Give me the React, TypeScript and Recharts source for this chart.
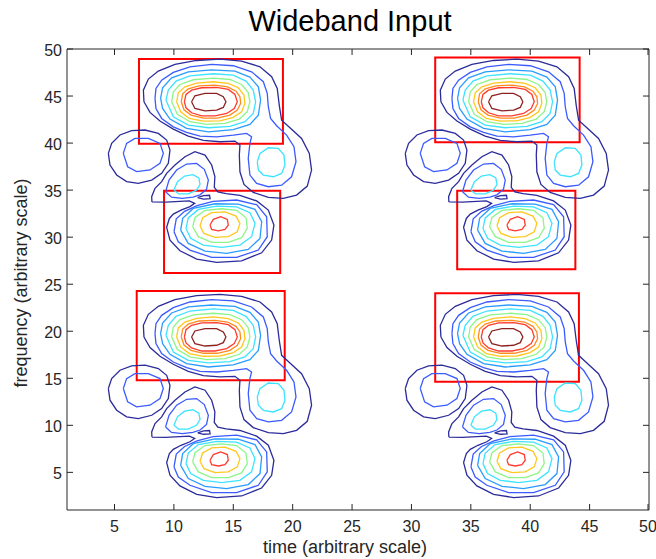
import React from "react";
import { LineChart, Line, XAxis, YAxis, ReferenceArea } from "recharts";

// contour colours, outermost level first (jet-like)
const NAVY = "#2b2b9a";
const BLUE = "#3b5bff";
const AZURE = "#2b9cff";
const CYAN = "#3de3ff";
const GREEN = "#8df58a";
const YELLOW = "#ffc81e";
const ORANGE = "#ff8a1e";
const RED = "#ff3a2e";
const DARKRED = "#8e2222";
const AXIS = "#262626";

type Pt = [number, number]; // [time, frequency]

// --- one tile of the pattern, traced off the top-left quarter ---

// big blob + the blob to its right
const bigNavy: Pt[] = [
  [7.48, 44.39], [7.43, 45.63], [7.85, 46.8], [8.69, 47.65], [10.09, 48.36], [11.91, 48.78],
  [13.88, 48.92], [15.7, 48.71], [17.25, 48.11], [18.23, 47.05], [18.7, 45.81], [18.87, 44.04],
  [19.07, 42.44], [19.77, 41.63], [20.75, 40.49], [21.4, 38.9], [21.59, 37.13], [21.23, 35.43],
  [20.33, 34.47], [19.21, 34.12], [17.95, 34.22], [16.68, 34.76], [15.9, 35.61], [15.56, 36.95],
  [15.51, 38.72], [15.56, 39.79], [15.14, 40.21], [13.88, 40.14], [12.48, 40.28], [11.21, 40.74],
  [9.95, 41.49], [8.83, 42.34], [7.99, 43.26],
];
const bigBlue: Pt[] = [
  [8.41, 44.75], [8.49, 45.81], [8.97, 46.69], [9.95, 47.51], [11.35, 48.11], [13.18, 48.36],
  [15.0, 48.22], [16.54, 47.58], [17.53, 46.52], [17.86, 45.28], [17.95, 43.86], [18.14, 42.62],
  [18.65, 41.84], [19.49, 40.85], [20.11, 39.61], [20.28, 38.01], [19.91, 36.42], [19.07, 35.53],
  [17.95, 35.36], [16.97, 35.71], [16.4, 36.6], [16.26, 38.37], [16.4, 39.96], [16.54, 40.67],
  [16.12, 41.03], [15.0, 40.85], [13.6, 40.67], [12.2, 40.74], [11.07, 41.13], [9.95, 41.73],
  [8.97, 42.62], [8.49, 43.68],
];
const bigAzure: Pt[] = [
  [8.88, 44.75], [9.05, 45.88], [9.81, 46.94], [11.21, 47.58], [13.18, 47.79], [15.14, 47.65],
  [16.4, 47.01], [17.11, 45.98], [17.3, 44.57], [17.11, 42.97], [16.4, 41.98], [15.0, 41.42],
  [12.9, 41.2], [11.07, 41.56], [9.67, 42.55], [9.05, 43.68],
];
const bigCyan: Pt[] = [
  [9.33, 44.57], [9.53, 45.63], [10.18, 46.59], [11.35, 47.15], [13.32, 47.37], [15.0, 47.22],
  [16.07, 46.59], [16.68, 45.63], [16.88, 44.39], [16.68, 43.15], [15.98, 42.27], [14.72, 41.77],
  [12.9, 41.63], [11.21, 41.91], [9.95, 42.8],
];
const bigGreen: Pt[] = [
  [9.81, 44.39], [9.95, 45.45], [10.51, 46.23], [11.63, 46.73], [13.32, 46.91], [14.72, 46.76],
  [15.7, 46.23], [16.26, 45.38], [16.4, 44.39], [16.18, 43.33], [15.51, 42.55], [14.3, 42.09],
  [12.76, 41.98], [11.35, 42.27], [10.29, 43.05],
];
const bigYellow: Pt[] = [
  [10.23, 44.39], [10.37, 45.35], [10.93, 45.98], [11.91, 46.37], [13.32, 46.52], [14.58, 46.34],
  [15.42, 45.88], [15.9, 45.1], [15.98, 44.21], [15.7, 43.33], [15.0, 42.73], [13.88, 42.37],
  [12.48, 42.34], [11.3, 42.62], [10.57, 43.33],
];
const bigOrange: Pt[] = [
  [10.62, 44.39], [10.74, 45.24], [11.21, 45.77], [12.11, 46.09], [13.46, 46.16], [14.52, 45.98],
  [15.23, 45.52], [15.56, 44.92], [15.62, 44.21], [15.34, 43.5], [14.72, 42.97], [13.65, 42.66],
  [12.48, 42.66], [11.44, 42.97], [10.85, 43.54],
];
const bigRed: Pt[] = [
  [10.88, 44.39], [11.02, 45.17], [11.49, 45.63], [12.34, 45.88], [13.6, 45.91], [14.58, 45.7],
  [15.14, 45.17], [15.34, 44.39], [15.08, 43.68], [14.44, 43.15], [13.46, 42.9], [12.34, 42.9],
  [11.49, 43.22], [11.02, 43.75],
];
const bigCore: Pt[] = [
  [11.49, 44.39], [11.77, 45.03], [12.62, 45.28], [13.6, 45.28], [14.16, 44.92], [14.38, 44.39],
  [14.16, 43.79], [13.6, 43.51], [12.62, 43.43], [11.77, 43.68],
];
const rightCore: Pt[] = [
  [17.02, 38.01], [17.25, 38.9], [17.95, 39.5], [18.79, 39.43], [19.27, 38.72], [19.35, 37.66],
  [19.07, 36.77], [18.37, 36.42], [17.53, 36.6], [17.11, 37.13],
];

// blob on the left
const leftNavy: Pt[] = [
  [4.48, 38.91], [4.76, 39.97], [5.46, 40.86], [6.44, 41.32], [7.57, 41.39], [8.69, 41.03],
  [9.39, 40.32], [9.67, 39.26], [9.53, 37.85], [8.97, 36.78], [8.13, 36.07], [7.0, 35.72],
  [6.02, 35.9], [5.18, 36.61], [4.62, 37.67],
];
const leftBlue: Pt[] = [
  [5.74, 38.91], [6.02, 39.97], [6.72, 40.5], [7.85, 40.5], [8.83, 39.97], [9.11, 38.91],
  [8.83, 37.85], [7.99, 37.14], [6.86, 36.96], [6.11, 37.49],
];

// middle blob and small lower blob share the outer level
const lowerNavy: Pt[] = [
  [8.15, 33.75], [8.13, 34.3], [8.41, 35.19], [8.97, 35.9], [9.39, 36.78], [10.09, 37.67],
  [10.93, 38.55], [11.77, 39.08], [12.62, 38.73], [13.18, 37.67], [13.45, 36.43], [13.4, 35.3],
  [13.7, 34.8], [14.4, 34.62], [15.56, 34.45], [16.97, 33.85], [17.95, 32.88], [18.42, 31.29],
  [18.23, 29.69], [17.39, 28.34], [15.7, 27.49], [13.6, 27.32], [11.92, 27.67], [10.51, 28.56],
  [9.67, 29.69], [9.39, 31.04], [9.62, 31.99], [9.95, 32.45], [10.6, 32.88], [11.35, 33.25],
  [11.75, 33.6], [11.3, 33.85], [10.5, 33.8], [9.3, 33.72],
];
const saddleLoop: Pt[] = [
  [12.0, 34.2], [12.5, 34.42], [13.0, 34.45], [13.05, 34.1], [12.5, 34.05],
];
const midBlue: Pt[] = [
  [9.3, 34.83], [9.59, 36.07], [10.23, 37.14], [11.07, 37.77], [11.91, 37.84], [12.56, 37.21],
  [12.9, 36.07], [12.75, 35.1], [12.2, 34.5], [11.6, 34.25], [10.7, 34.12], [9.8, 34.25],
];
const midCyan: Pt[] = [
  [10.0, 35.0], [10.3, 35.9], [10.9, 36.5], [11.6, 36.65], [12.1, 36.3], [12.2, 35.6],
  [11.9, 35.0], [11.2, 34.6], [10.4, 34.6],
];
const smallBlue: Pt[] = [
  [10.01, 30.58], [10.2, 31.95], [10.9, 32.75], [11.95, 33.35], [13.3, 33.8], [15.28, 33.95],
  [16.97, 33.45], [17.81, 32.17], [17.86, 30.05], [17.11, 28.63], [15.28, 27.85], [13.18, 27.85],
  [11.35, 28.63], [10.37, 29.51],
];
const smallAzure: Pt[] = [
  [10.57, 30.75], [10.74, 32.0], [11.63, 33.05], [13.46, 33.55], [15.42, 33.52], [16.83, 32.95],
  [17.39, 31.64], [17.25, 29.87], [16.26, 28.7], [14.44, 28.27], [12.62, 28.52], [11.21, 29.34],
];
const smallCyan: Pt[] = [
  [11.02, 30.93], [11.21, 32.05], [12.06, 32.95], [13.6, 33.3], [15.28, 33.22], [16.4, 32.6],
  [16.83, 31.46], [16.54, 30.05], [15.56, 29.16], [14.02, 28.91], [12.48, 29.16], [11.41, 29.87],
];
const smallGreen: Pt[] = [
  [11.58, 31.11], [11.78, 32.1], [12.62, 32.85], [14.02, 33.02], [15.28, 32.85], [16.07, 32.06],
  [16.18, 30.93], [15.7, 29.94], [14.58, 29.44], [13.18, 29.44], [12.06, 30.05],
];
const smallYellow: Pt[] = [
  [12.2, 31.18], [12.42, 32.06], [13.18, 32.6], [14.3, 32.68], [15.23, 32.24], [15.56, 31.46],
  [15.34, 30.58], [14.58, 30.05], [13.46, 29.97], [12.53, 30.4],
];
const smallRed: Pt[] = [
  [13.04, 31.29], [13.32, 31.89], [13.94, 32.17], [14.5, 31.89], [14.58, 31.29], [14.3, 30.82],
  [13.74, 30.68], [13.18, 30.82],
];

const tileContours: { color: string; pts: Pt[] }[] = [
  { color: NAVY, pts: bigNavy },
  { color: BLUE, pts: bigBlue },
  { color: AZURE, pts: bigAzure },
  { color: CYAN, pts: bigCyan },
  { color: GREEN, pts: bigGreen },
  { color: YELLOW, pts: bigYellow },
  { color: ORANGE, pts: bigOrange },
  { color: RED, pts: bigRed },
  { color: DARKRED, pts: bigCore },
  { color: CYAN, pts: rightCore },
  { color: NAVY, pts: leftNavy },
  { color: BLUE, pts: leftBlue },
  { color: NAVY, pts: lowerNavy },
  { color: NAVY, pts: saddleLoop },
  { color: BLUE, pts: midBlue },
  { color: CYAN, pts: midCyan },
  { color: BLUE, pts: smallBlue },
  { color: AZURE, pts: smallAzure },
  { color: CYAN, pts: smallCyan },
  { color: GREEN, pts: smallGreen },
  { color: YELLOW, pts: smallYellow },
  { color: RED, pts: smallRed },
];

// the same tile shows up four times: shifted 25 in time and 25 in frequency
const tileShiftsTime = [0, 25];
const tileShiftsFreq = [0, -25];

// red boxes: [t1, t2, f1, f2]
const boxes: [number, number, number, number][] = [
  [7.06, 19.18, 39.93, 48.93],
  [9.17, 18.95, 26.2, 34.93],
  [6.87, 19.33, 14.8, 24.27],
  [32.0, 44.16, 40.1, 49.1],
  [33.85, 43.8, 26.6, 34.93],
  [32.0, 44.1, 14.64, 24.03],
];

const timeTicks = [5, 10, 15, 20, 25, 30, 35, 40, 45, 50];
const freqTicks = [5, 10, 15, 20, 25, 30, 35, 40, 45, 50];

const FONT = "'Liberation Sans', Arial, Helvetica, sans-serif";
const TICK = 6;

function BottomTick(props: any) {
  const { x, y, payload } = props;
  return (
    <g>
      <line x1={x} x2={x} y1={y} y2={y - TICK} stroke={AXIS} />
      <text x={x} y={y + 16} textAnchor="middle" dominantBaseline="central" fontSize={16} fill={AXIS} fontFamily={FONT}>
        {payload.value}
      </text>
    </g>
  );
}
function TopTick(props: any) {
  const { x, y } = props;
  return <line x1={x} x2={x} y1={y} y2={y + TICK} stroke={AXIS} />;
}
function LeftTick(props: any) {
  const { x, y, payload } = props;
  return (
    <g>
      <line x1={x} x2={x + TICK} y1={y} y2={y} stroke={AXIS} />
      <text x={x - 5} y={y + 1} textAnchor="end" dominantBaseline="central" fontSize={16} fill={AXIS} fontFamily={FONT}>
        {payload.value}
      </text>
    </g>
  );
}
function RightTick(props: any) {
  const { x, y } = props;
  return <line x1={x} x2={x - TICK} y1={y} y2={y} stroke={AXIS} />;
}

export default function App() {
  const series: { key: string; color: string; data: { x: number; y: number }[] }[] = [];
  tileShiftsFreq.forEach((df, i) =>
    tileShiftsTime.forEach((dt, j) =>
      tileContours.forEach((c, k) => {
        const ring = [...c.pts, c.pts[0]];
        series.push({
          key: `c-${i}-${j}-${k}`,
          color: c.color,
          data: ring.map(([t, f]) => ({ x: t + dt, y: f + df })),
        });
      })
    )
  );

  return (
    <div style={{ position: "absolute", left: 0, top: 0, width: 656, height: 559, background: "#fff", fontFamily: FONT }}>
      <LineChart width={656} height={559} margin={{ top: 48, right: 6, bottom: 19, left: 7 }}>
        <XAxis
          xAxisId="b"
          type="number"
          dataKey="x"
          domain={[1, 50]}
          allowDataOverflow
          ticks={timeTicks}
          height={30}
          tickSize={0}
          tickMargin={0}
          tickLine={false}
          stroke={AXIS}
          tick={<BottomTick />}
        />
        <XAxis
          xAxisId="t"
          orientation="top"
          type="number"
          dataKey="x"
          domain={[1, 50]}
          allowDataOverflow
          ticks={timeTicks}
          height={1}
          tickSize={0}
          tickMargin={0}
          tickLine={false}
          stroke={AXIS}
          tick={<TopTick />}
        />
        <YAxis
          yAxisId="l"
          type="number"
          dataKey="y"
          domain={[1, 50]}
          allowDataOverflow
          ticks={freqTicks}
          width={60}
          tickSize={0}
          tickMargin={0}
          tickLine={false}
          stroke={AXIS}
          tick={<LeftTick />}
        />
        <YAxis
          yAxisId="r"
          orientation="right"
          type="number"
          dataKey="y"
          domain={[1, 50]}
          allowDataOverflow
          ticks={freqTicks}
          width={1}
          tickSize={0}
          tickMargin={0}
          tickLine={false}
          stroke={AXIS}
          tick={<RightTick />}
        />
        {series.map((s) => (
          <Line
            key={s.key}
            xAxisId="b"
            yAxisId="l"
            data={s.data}
            dataKey="y"
            type="linear"
            stroke={s.color}
            strokeWidth={1.3}
            dot={false}
            activeDot={false}
            isAnimationActive={false}
          />
        ))}
        {boxes.map(([t1, t2, f1, f2], i) => (
          <ReferenceArea
            key={`box-${i}`}
            xAxisId="b"
            yAxisId="l"
            x1={t1}
            x2={t2}
            y1={f1}
            y2={f2}
            fill="none"
            fillOpacity={0}
            stroke="#ff0000"
            strokeWidth={2}
            ifOverflow="visible"
          />
        ))}
      </LineChart>
      <div style={{ position: "absolute", left: 50, width: 600, top: 7, textAlign: "center", fontSize: 29, lineHeight: "29px", color: "#000" }}>
        Wideband Input
      </div>
      <div style={{ position: "absolute", left: 45, width: 600, top: 538, textAlign: "center", fontSize: 18, lineHeight: "18px", color: AXIS }}>
        time (arbitrary scale)
      </div>
      <div
        style={{
          position: "absolute",
          left: 21 - 150,
          top: 283 - 9,
          width: 300,
          height: 18,
          textAlign: "center",
          fontSize: 18,
          lineHeight: "18px",
          color: AXIS,
          transform: "rotate(-90deg)",
        }}
      >
        frequency (arbitrary scale)
      </div>
    </div>
  );
}
